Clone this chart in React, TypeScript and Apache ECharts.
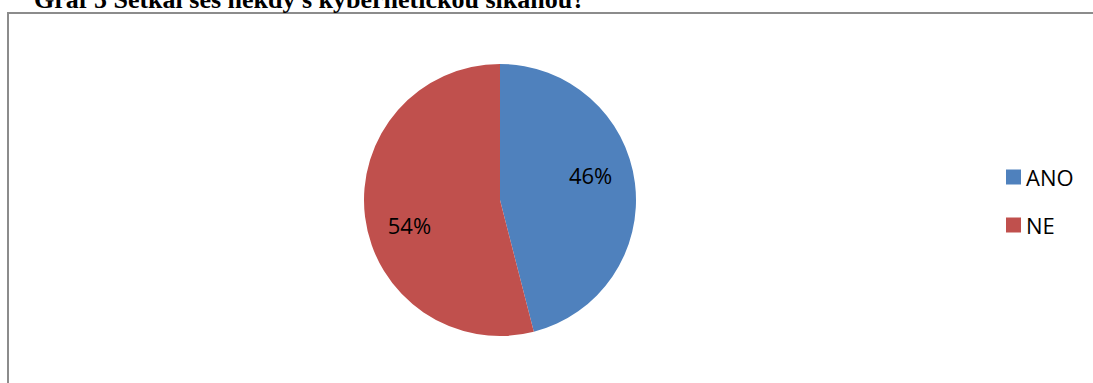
import React, { useEffect, useRef } from "react";
import * as echarts from "echarts";

const categories = ["ANO", "NE"];
const values = [46, 54];
const colors = ["#4F81BD", "#C0504D"];
const titleText = "Graf 5 Setkal ses někdy s kybernetickou šikanou?";

const CX = 500;
const CY = 200;
const R = 136;

export default function App() {
  const ref = useRef<HTMLDivElement>(null);
  useEffect(() => {
    if (!ref.current) return;
    const chart = echarts.init(ref.current, null, { renderer: "svg" });
    const rot = (-8 * Math.PI) / 180;
    chart.setOption({
      animation: false,
      backgroundColor: "#ffffff",
      graphic: [
        {
          type: "rect",
          shape: { x: 8, y: 13, width: 1200, height: 500 },
          style: { fill: "none", stroke: "#8c8c8c", lineWidth: 2 },
          silent: true,
          z: 0,
        },
        {
          type: "text",
          x: 34,
          y: -1,
          style: {
            text: titleText,
            font: "bold 26px 'Liberation Serif', 'Times New Roman', serif",
            fill: "#000000",
            textVerticalAlign: "middle",
            textAlign: "left",
          },
          silent: true,
        },
      ],
      legend: {
        orient: "vertical",
        left: 1006,
        top: 166,
        padding: 0,
        itemWidth: 15,
        itemHeight: 15,
        itemGap: 26,
        icon: "rect",
        selectedMode: false,
        data: categories,
        textStyle: {
          fontFamily: "'Open Sans', 'Liberation Sans', sans-serif",
          fontSize: 22,
          lineHeight: 22,
          color: "#000000",
        },
      },
      series: [
        {
          type: "pie",
          center: [CX, CY],
          radius: [0, R],
          startAngle: 90,
          clockwise: true,
          silent: true,
          emphasis: { disabled: true },
          itemStyle: { borderWidth: 0 },
          label: {
            show: true,
            position: "inside",
            formatter: (p: any) => `${Math.round(p.percent)}%`,
            fontFamily: "'Open Sans', 'Liberation Sans', sans-serif",
            fontSize: 22,
            color: "#000000",
          },
          labelLine: { show: false },
          labelLayout: (params: any) => {
            const r = params.labelRect;
            const lx = r.x + r.width / 2;
            const ly = r.y + r.height / 2;
            const dx0 = lx - CX;
            const dy0 = ly - CY;
            const ang = Math.atan2(dy0, dx0) + rot;
            const dist = 0.69 * R;
            const nx = CX + dist * Math.cos(ang);
            const ny = CY + dist * Math.sin(ang);
            return { dx: nx - lx, dy: ny - ly };
          },
          data: categories.map((c, i) => ({
            name: c,
            value: values[i],
            itemStyle: { color: colors[i] },
          })),
        },
      ],
    });
    return () => chart.dispose();
  }, []);
  return (
    <div
      ref={ref}
      style={{ position: "fixed", left: 0, top: 0, width: 1093, height: 383 }}
    />
  );
}
